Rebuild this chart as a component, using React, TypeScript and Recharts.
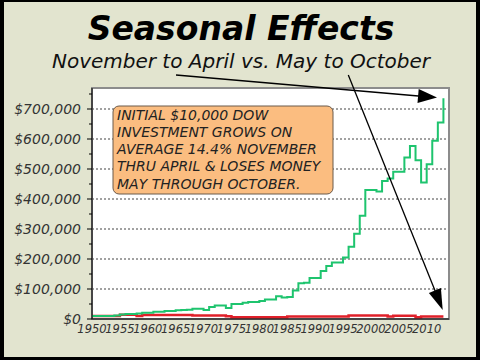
import React from "react";
import {
  LineChart,
  Line,
  XAxis,
  YAxis,
  CartesianGrid,
  ReferenceArea,
} from "recharts";

const years = [
  1950, 1951, 1952, 1953, 1954, 1955, 1956, 1957, 1958, 1959,
  1960, 1961, 1962, 1963, 1964, 1965, 1966, 1967, 1968, 1969,
  1970, 1971, 1972, 1973, 1974, 1975, 1976, 1977, 1978, 1979,
  1980, 1981, 1982, 1983, 1984, 1985, 1986, 1987, 1988, 1989,
  1990, 1991, 1992, 1993, 1994, 1995, 1996, 1997, 1998, 1999,
  2000, 2001, 2002, 2003, 2004, 2005, 2006, 2007, 2008, 2009,
  2010, 2011, 2012, 2013,
];

const novemberToApril = [
  10000, 10000, 10000, 10000, 12000, 15000, 17000, 17000, 18000, 21000,
  21000, 24000, 24000, 27000, 27000, 29000, 30000, 31000, 34000, 34000,
  30000, 40000, 45000, 45000, 37000, 50000, 50000, 54000, 57000, 57000,
  60000, 65000, 65000, 76000, 72000, 73000, 95000, 119000, 121000, 137000,
  137000, 160000, 177000, 188000, 188000, 205000, 241000, 284000, 344000, 430000,
  430000, 425000, 460000, 468000, 491000, 491000, 538000, 577000, 529000, 455000,
  516000, 594000, 655000, 736000,
];

const mayToOctober = [
  10000, 10000, 10000, 10000, 10000, 14000, 14000, 14000, 10000, 13000,
  13000, 13000, 13000, 13000, 13000, 13000, 13000, 13000, 12000, 12000,
  12000, 12000, 12000, 12000, 9000, 6000, 6000, 6000, 6000, 6000,
  6000, 6000, 6000, 6000, 6000, 8000, 8000, 8000, 8000, 8000,
  8000, 8000, 8000, 8000, 8000, 8000, 12000, 12000, 12000, 12000,
  12000, 12000, 12000, 8000, 11000, 11000, 11000, 11000, 6000, 8000,
  8000, 8000, 8000, 8000,
];

const xTicks = [1950, 1955, 1960, 1965, 1970, 1975, 1980, 1985, 1990, 1995, 2000, 2005, 2010];
const yTicks = [
  0, 50000, 100000, 150000, 200000, 250000, 300000, 350000, 400000,
  450000, 500000, 550000, 600000, 650000, 700000, 750000,
];
const gridValues = [100000, 200000, 300000, 400000, 500000, 600000, 700000];

const title = "Seasonal Effects";
const subtitle = "November to April vs. May to October";
const noteLines = [
  "INITIAL $10,000 DOW",
  "INVESTMENT GROWS ON",
  "AVERAGE 14.4% NOVEMBER",
  "THRU APRIL & LOSES MONEY",
  "MAY THROUGH OCTOBER.",
];

const data = years.map((year, i) => ({
  year,
  novApr: novemberToApril[i],
  mayOct: mayToOctober[i],
}));

const FONT = "'DejaVu Sans', Verdana, sans-serif";

const XTick = (props: any) => {
  const { x, y, payload } = props;
  return (
    <text
      x={x}
      y={y}
      dy="0.71em"
      textAnchor="middle"
      fontFamily={FONT}
      fontStyle="italic"
      fontSize={11.5}
      fill="#333"
    >
      {payload.value}
    </text>
  );
};

const YTick = (props: any) => {
  const { x, y, payload } = props;
  const v = payload.value as number;
  const major = v % 100000 === 0;
  const ax = x + 11;
  return (
    <g>
      <line x1={ax - (major ? 5 : 3)} x2={ax} y1={y} y2={y} stroke="#000" strokeWidth={1} />
      {major && (
        <text
          x={x}
          y={y}
          dy="0.355em"
          textAnchor="end"
          fontFamily={FONT}
          fontStyle="italic"
          fontSize={14}
          fill="#333"
        >
          {"$" + v.toLocaleString("en-US")}
        </text>
      )}
    </g>
  );
};

export default function App() {
  return (
    <div
      style={{
        position: "absolute",
        left: 0,
        top: 0,
        width: 480,
        height: 360,
        background: "#000",
        overflow: "hidden",
      }}
    >
      <div
        style={{
          position: "absolute",
          left: 4,
          top: 2,
          width: 472,
          height: 355,
          background: "#e2e4cf",
        }}
      />
      <div style={{ position: "absolute", left: 0, top: 0 }}>
        <LineChart
          width={480}
          height={360}
          data={data}
          margin={{ top: 88, right: 31, bottom: 11, left: 12 }}
        >
          <CartesianGrid
            vertical={false}
            horizontalValues={gridValues}
            stroke="#444"
            strokeDasharray="2 2"
            fill="#ffffff"
            fillOpacity={1}
          />
          <ReferenceArea
            x1={1950}
            x2={2014}
            y1={0}
            y2={770000}
            fill="none"
            stroke="#8c8c8c"
            strokeWidth={2}
          />
          <XAxis
            dataKey="year"
            type="number"
            domain={[1950, 2014]}
            ticks={xTicks}
            interval={0}
            height={30}
            axisLine={{ stroke: "#000", strokeWidth: 1 }}
            tickLine={false}
            tickSize={0}
            tickMargin={6}
            tick={<XTick />}
          />
          <YAxis
            type="number"
            domain={[0, 770000]}
            ticks={yTicks}
            interval={0}
            width={80}
            axisLine={{ stroke: "#000", strokeWidth: 1 }}
            tickLine={false}
            tickSize={0}
            tickMargin={11}
            tick={<YTick />}
          />
          <Line
            type="stepAfter"
            dataKey="mayOct"
            stroke="#e0202a"
            strokeWidth={2.5}
            dot={false}
            isAnimationActive={false}
          />
          <Line
            type="stepAfter"
            dataKey="novApr"
            stroke="#1ec46e"
            strokeWidth={2}
            dot={false}
            isAnimationActive={false}
          />
        </LineChart>
      </div>
      <svg
        width={480}
        height={360}
        style={{ position: "absolute", left: 0, top: 0, pointerEvents: "none" }}
      >
        <text
          x={241}
          y={40}
          textAnchor="middle"
          fontFamily={FONT}
          fontWeight="bold"
          fontStyle="italic"
          fontSize={33}
          fill="#000"
        >
          {title}
        </text>
        <text
          x={241}
          y={68}
          textAnchor="middle"
          fontFamily={FONT}
          fontStyle="italic"
          fontSize={20}
          fill="#111"
        >
          {subtitle}
        </text>
        <rect x={113} y={106} width={220} height={88} rx={6} ry={6} fill="#fbbd80" stroke="#6b5a4a" strokeWidth={1} />
        {noteLines.map((t, i) => (
          <text
            key={i}
            x={117}
            y={119.5 + i * 17.3}
            fontFamily={FONT}
            fontStyle="italic"
            fontSize={14}
            fill="#222"
          >
            {t}
          </text>
        ))}
        <line x1={176} y1={75} x2={430} y2={96.9} stroke="#000" strokeWidth={1.5} />
        <polygon points="437,97.5 417.5,102.9 418.7,88.9" fill="#000" />
        <line x1={348.3} y1={75} x2={440} y2={303} stroke="#000" strokeWidth={1.3} />
        <polygon points="442.7,310 428.9,292.9 440.9,288.1" fill="#000" />
      </svg>
    </div>
  );
}
